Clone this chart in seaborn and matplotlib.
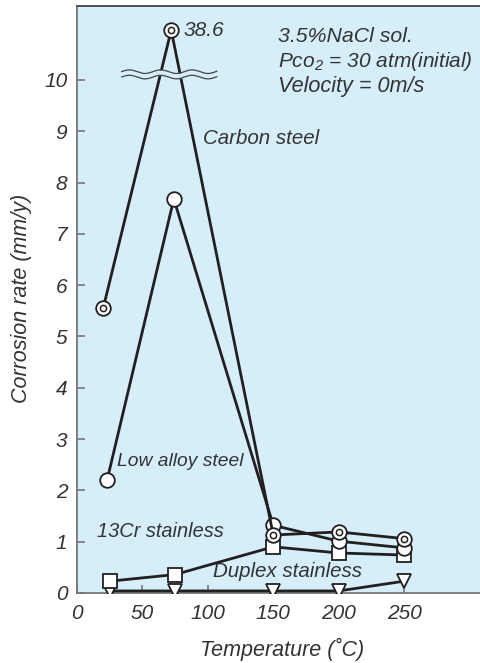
import numpy as np
import pandas as pd
import matplotlib
matplotlib.use("Agg")
import matplotlib.pyplot as plt
import seaborn as sns

# ---------------- data ----------------
carbon_temp = [20, 72, 150, 200, 250]
carbon_rate = [5.55, 38.6, 1.13, 1.19, 1.06]
lowalloy_temp = [23, 74, 150, 200, 250]
lowalloy_rate = [2.2, 7.68, 1.32, 1.01, 0.88]
cr13_temp = [25, 75, 150, 200, 250]
cr13_rate = [0.23, 0.36, 0.90, 0.78, 0.74]
duplex_temp = [25, 75, 150, 200, 250]
duplex_rate = [0.04, 0.04, 0.04, 0.04, 0.23]
x_ticks = [0, 50, 100, 150, 200, 250]
y_ticks = [0, 1, 2, 3, 4, 5, 6, 7, 8, 9, 10]
peak_label = "38.6"

# ---------------- style ----------------
sns.set_theme(style="ticks")
plt.rcParams["font.family"] = ["Liberation Sans", "DejaVu Sans"]
plt.rcParams["font.style"] = "italic"
plt.rcParams["mathtext.fontset"] = "custom"
plt.rcParams["mathtext.it"] = "Liberation Sans:italic"
plt.rcParams["mathtext.rm"] = "Liberation Sans:italic"
plt.rcParams["mathtext.default"] = "it"

BG = "#d5eefa"
INK = "#231f20"
TXT = "#333333"

break_at = 10.5       # values above this are drawn at the broken-axis position
peak_display = 10.97

fig = plt.figure(figsize=(4.8, 6.63), dpi=100)
ax = fig.add_axes([77 / 480, 1 - 593 / 663, 1 - 77 / 480, (593 - 6) / 663])
ax.set_facecolor(BG)

def disp(vals):
    return [v if v < break_at else peak_display for v in vals]

mk = dict(markerfacecolor="white", markeredgecolor=INK, markeredgewidth=1.3)

sns.lineplot(x=duplex_temp, y=duplex_rate, ax=ax, color=INK, linewidth=2.0,
             marker="v", markersize=10, sort=False, zorder=4, **mk)
sns.lineplot(x=cr13_temp, y=cr13_rate, ax=ax, color=INK, linewidth=2.0,
             marker="s", markersize=9.5, sort=False, zorder=4, **mk)
sns.lineplot(x=lowalloy_temp, y=lowalloy_rate, ax=ax, color=INK, linewidth=2.0,
             marker="o", markersize=10.5, sort=False, zorder=4, **mk)
sns.lineplot(x=carbon_temp, y=disp(carbon_rate), ax=ax, color=INK, linewidth=2.0,
             marker="o", markersize=10.5, sort=False, zorder=4, **mk)
sns.scatterplot(x=carbon_temp, y=disp(carbon_rate), ax=ax, marker="o", s=20,
                facecolor="white", edgecolor=INK, linewidth=1.1, zorder=6)

# broken-axis wavy band
wx = np.linspace(34, 107, 300)
wave = 0.035 * np.sin(2 * np.pi * (wx - 34) / 24)
y_up = 10.16 + wave
y_lo = 10.055 + wave
ax.fill_between(wx, y_lo, y_up, color=BG, zorder=5, linewidth=0)
ax.plot(wx, y_up, color="#444444", lw=0.9, zorder=5)
ax.plot(wx, y_lo, color="#444444", lw=0.9, zorder=5)

# ---------------- texts ----------------
ax.text(81.5, peak_display, peak_label, fontsize=15, color=TXT, ha="left", va="center")
ax.text(153.4, 10.84, "3.5%NaCl sol.", fontsize=15.3, color=TXT, ha="left", va="center")
ax.text(153.4, 10.36, r"Pco$_2$ = 30 atm(initial)", fontsize=15, color=TXT, ha="left", va="center")
ax.text(153.4, 9.87, "Velocity = 0m/s", fontsize=15.6, color=TXT, ha="left", va="center")
ax.text(96, 8.85, "Carbon steel", fontsize=14.8, color=TXT, ha="left", va="center")
ax.text(30.5, 2.56, "Low alloy steel", fontsize=13.9, color=TXT, ha="left", va="center")
ax.text(15, 1.19, "13Cr stainless", fontsize=14.4, color=TXT, ha="left", va="center")
ax.text(104.3, 0.41, "Duplex stainless", fontsize=14.8, color=TXT, ha="left", va="center")

# ---------------- axes ----------------
ax.set_xlim(0, 308)
ax.set_ylim(0, 11.44)
ax.set_xticks(x_ticks)
ax.set_yticks(y_ticks)
ax.tick_params(direction="in", length=6, width=1.2, color="#777777",
               labelsize=15, labelcolor=TXT)
ax.tick_params(axis="y", pad=7)
ax.tick_params(axis="x", pad=8)
for lab in ax.get_xticklabels() + ax.get_yticklabels():
    lab.set_style("italic")

ax.spines["right"].set_visible(False)
ax.spines["top"].set_color("#444444")
ax.spines["top"].set_linewidth(1.3)
ax.spines["left"].set_color("#777777")
ax.spines["left"].set_linewidth(1.3)
ax.spines["bottom"].set_color("#777777")
ax.spines["bottom"].set_linewidth(1.3)

ax.set_xlabel("Temperature (˚C)", fontsize=15.5, color=TXT, style="italic")
ax.set_ylabel("Corrosion rate (mm/y)", fontsize=15.5, color=TXT, style="italic")
ax.xaxis.set_label_coords(0.509, -0.076)
ax.yaxis.set_label_coords(-0.112, 0.5026)

fig.savefig("out.png", dpi=100, facecolor="white")
